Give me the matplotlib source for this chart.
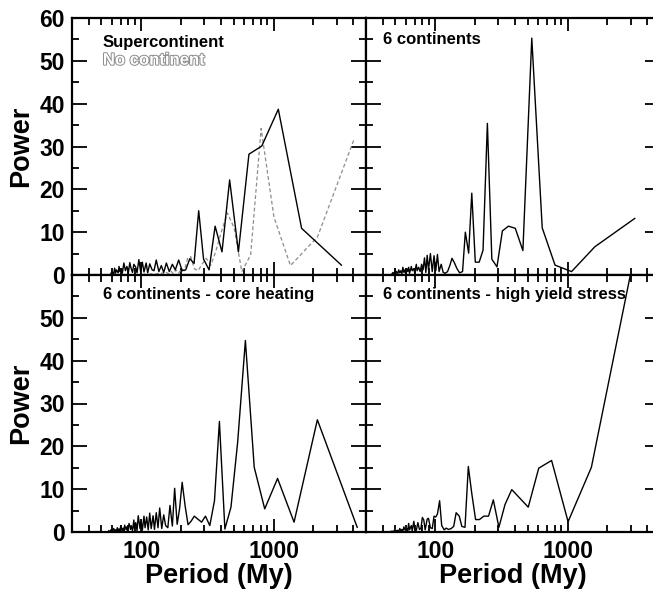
import matplotlib
matplotlib.use('Agg')
import matplotlib.pyplot as plt
import matplotlib.patheffects as pe

plt.rcParams['font.family'] = ['Liberation Sans', 'DejaVu Sans']
plt.rcParams['font.weight'] = 'bold'

# Supercontinent (solid) and No continent (dashed), top-left
sc_period = [3260, 1630, 1087, 815, 652, 543, 466, 408, 362, 326,
             296, 272, 251, 233, 217, 204, 192, 181, 172, 163,
             155, 148, 142, 136, 130, 125, 121, 116, 112, 109,
             105, 102, 99, 96, 93, 91, 88, 86, 84, 82,
             80, 78, 76, 74, 72, 71, 69, 68, 67, 65,
             64, 63, 62, 60, 59]
sc_power = [2.3, 10.9, 38.7, 30.1, 28.2, 5.4, 22.2, 5.4, 11.4, 1.2,
            3.7, 15.0, 2.7, 3.8, 1.2, 1.0, 3.5, 1.2, 2.5, 0.8,
            2.8, 0.6, 2.2, 0.8, 3.5, 1.0, 1.2, 2.6, 0.5, 2.8,
            0.7, 3.0, 0.8, 3.6, 0.5, 1.8, 2.5, 0.6, 1.5, 2.9,
            0.5, 2.0, 1.0, 2.8, 0.4, 1.5, 0.8, 2.0, 0.5, 1.2,
            0.4, 1.6, 0.3, 0.8, 0.3]

nc_period = [4030, 2150, 1343, 1008, 806, 672, 576, 504, 448, 403,
             366, 336, 310, 288, 269, 252, 237, 224, 212, 202,
             192, 183, 175, 168, 161, 155, 149, 144, 139, 134,
             130, 126, 122, 119, 115, 112, 109, 106, 103, 101]
nc_power = [31.4, 8.9, 2.2, 13.5, 34.2, 4.7, 0.8, 11.0, 14.5, 10.0,
            5.5, 2.3, 3.9, 2.5, 1.0, 1.5, 4.3, 3.8, 1.0, 1.5,
            0.4, 1.2, 0.3, 0.9, 0.3, 0.6, 0.2, 0.5, 0.2, 0.4,
            0.2, 0.3, 0.1, 0.3, 0.1, 0.2, 0.1, 0.2, 0.1, 0.1]

# 6 continents, top-right
c6_period = [3220, 1610, 1073, 805, 644, 537, 460, 403, 358, 322,
             293, 268, 248, 230, 215, 201, 189, 179, 169, 161,
             153, 146, 140, 134, 129, 124, 119, 115, 111, 107,
             104, 101, 98, 95, 92, 89, 87, 85, 83, 81,
             79, 77, 75, 73, 72, 70, 69, 67, 66, 64,
             63, 62, 61, 60, 59, 58, 57, 56, 55, 54,
             53, 52, 51, 50, 50, 49, 48, 47]
c6_power = [13.2, 6.6, 0.8, 2.3, 11.0, 55.3, 5.7, 10.9, 11.4, 10.3,
            1.9, 3.7, 35.4, 5.8, 3.0, 3.0, 19.1, 5.1, 10.0, 0.8,
            0.5, 1.5, 2.8, 3.9, 2.2, 0.8, 0.4, 0.6, 2.5, 0.8,
            4.8, 1.0, 4.5, 0.8, 5.0, 1.2, 4.6, 0.6, 4.0, 1.2,
            2.5, 0.8, 1.8, 1.0, 2.5, 0.5, 1.5, 1.0, 2.0, 0.4,
            1.8, 0.8, 1.5, 0.3, 1.2, 0.6, 1.8, 0.3, 1.0, 0.5,
            1.2, 0.2, 0.8, 0.3, 1.4, 0.2, 0.6, 0.2]

# 6 continents - core heating, bottom-left
ch_period = [4290, 2145, 1430, 1073, 858, 715, 613, 536, 477, 429,
             390, 358, 330, 306, 286, 268, 252, 238, 226, 215,
             204, 195, 187, 179, 172, 165, 159, 153, 148, 143,
             138, 134, 130, 126, 123, 119, 116, 113, 110, 107,
             105, 102, 100, 98, 95, 93, 91, 89, 88, 86,
             84, 83, 81, 79, 78, 77, 75, 74, 73, 72,
             70, 69, 68, 67, 66, 65, 64, 63, 62, 61,
             60, 60, 59, 58, 57]
ch_power = [1.1, 26.2, 2.3, 12.5, 5.4, 15.1, 44.7, 21.0, 5.8, 0.7,
            25.8, 7.3, 1.5, 3.7, 2.3, 3.0, 3.7, 2.5, 1.7, 6.0,
            11.6, 5.4, 1.8, 10.2, 1.4, 6.2, 1.0, 1.5, 4.0, 0.8,
            5.6, 1.0, 4.5, 0.6, 3.8, 0.8, 4.4, 0.5, 3.5, 1.0,
            3.7, 0.4, 2.5, 0.8, 3.8, 0.3, 2.2, 0.8, 2.8, 0.3,
            1.5, 0.6, 2.0, 0.3, 1.2, 0.5, 1.6, 0.2, 0.9, 0.4,
            1.3, 0.2, 0.7, 0.3, 1.0, 0.2, 0.5, 0.3, 0.8, 0.2,
            0.4, 0.2, 0.5, 0.1, 0.3]

# 6 continents - high yield stress, bottom-right
hy_period = [3030, 1515, 1010, 758, 606, 505, 433, 379, 337, 303,
             275, 253, 233, 216, 202, 189, 178, 168, 159, 152,
             144, 138, 132, 126, 121, 117, 112, 108, 104, 101,
             98, 95, 92, 89, 87, 84, 82, 80, 78, 76,
             74, 72, 70, 69, 67, 66, 64, 63, 62, 61,
             59, 58, 57, 56, 55, 54, 53, 52, 51, 51,
             50, 49, 48, 47, 47, 46]
hy_power = [61.0, 15.1, 2.4, 16.7, 14.9, 5.8, 8.0, 9.9, 6.4, 1.1,
            7.5, 3.7, 3.7, 2.9, 2.9, 9.0, 15.3, 1.1, 1.3, 3.7,
            4.5, 1.3, 0.8, 0.6, 0.9, 0.5, 1.5, 7.3, 4.2, 3.5,
            3.7, 0.8, 1.0, 3.2, 3.0, 0.5, 2.8, 3.4, 0.8, 0.6,
            2.2, 0.4, 0.6, 2.5, 0.3, 1.5, 0.5, 2.0, 0.3, 0.8,
            0.5, 1.2, 0.2, 0.6, 0.3, 0.8, 0.1, 0.4, 0.2, 0.3,
            0.1, 0.3, 0.1, 0.2, 0.1, 0.1]

xticks_major = [100, 1000]
xticks_minor = [30, 40, 50, 60, 70, 80, 90, 200, 300, 400, 500, 600, 700, 800, 900,
                2000, 3000, 4000]

W, H = 653, 595
fig = plt.figure(figsize=(W / 100, H / 100), dpi=100)


def add_panel(x0, y0, x1, y1):
    return fig.add_axes([x0 / W, 1 - y1 / H, (x1 - x0) / W, (y1 - y0) / H])


def setup(ax, left_labels, bottom_labels, top_label_60=True):
    ax.set_xscale('log')
    ax.set_xlim(30, 5000)
    ax.set_ylim(0, 60)
    ax.set_xticks(xticks_major)
    ax.set_xticks(xticks_minor, minor=True)
    ax.set_xticklabels(['100', '1000'] if bottom_labels else ['', ''])
    ax.set_xticklabels([''] * len(xticks_minor), minor=True)
    ax.set_yticks(range(0, 61, 10))
    ax.set_yticks(range(5, 60, 10), minor=True)
    if left_labels:
        labs = [str(v) for v in range(0, 61, 10)]
        if not top_label_60:
            labs[-1] = ''
        ax.set_yticklabels(labs)
    else:
        ax.set_yticklabels([''] * 7)
    ax.tick_params(which='both', direction='in', top=True, right=True,
                   width=1.3, labelsize=16.5, color='black')
    ax.xaxis.set_tick_params(which='major', length=9.5, pad=6)
    ax.xaxis.set_tick_params(which='minor', length=5)
    ax.yaxis.set_tick_params(which='major', length=11, pad=5)
    ax.yaxis.set_tick_params(which='minor', length=5)
    for lab in ax.get_xticklabels() + ax.get_yticklabels():
        lab.set_fontweight('bold')
    for s in ax.spines.values():
        s.set_linewidth(1.6)


ax_tl = add_panel(72, 18, 366, 275)
ax_tr = add_panel(366, 18, 660, 275)
ax_bl = add_panel(72, 275, 366, 532)
ax_br = add_panel(366, 275, 660, 532)

setup(ax_tl, True, False)
setup(ax_tr, False, False)
setup(ax_bl, True, True, top_label_60=False)
setup(ax_br, False, True)

ax_tl.plot(nc_period, nc_power, color='#8c8c8c', lw=0.9, ls=(0, (3, 2)))
ax_tl.plot(sc_period, sc_power, color='black', lw=1.0)
ax_tr.plot(c6_period, c6_power, color='black', lw=1.0)
ax_bl.plot(ch_period, ch_power, color='black', lw=1.0)
ax_br.plot(hy_period, hy_power, color='black', lw=1.0)

ax_tl.text(0.105, 0.935, 'Supercontinent', transform=ax_tl.transAxes,
           fontsize=12, fontweight='bold', va='top', ha='left')
ax_tl.text(0.105, 0.865, 'No continent', transform=ax_tl.transAxes,
           fontsize=12, fontweight='bold', va='top', ha='left', color='white',
           path_effects=[pe.withStroke(linewidth=1.4, foreground='#8c8c8c')])
ax_tr.text(0.058, 0.945, '6 continents', transform=ax_tr.transAxes,
           fontsize=12, fontweight='bold', va='top', ha='left')
ax_bl.text(0.105, 0.955, '6 continents - core heating', transform=ax_bl.transAxes,
           fontsize=12, fontweight='bold', va='top', ha='left')
ax_br.text(0.058, 0.955, '6 continents - high yield stress', transform=ax_br.transAxes,
           fontsize=12, fontweight='bold', va='top', ha='left')

for yc in [(18 + 275) / 2, (275 + 532) / 2]:
    fig.text(21 / W, 1 - yc / H, 'Power', rotation=90, fontsize=19.5,
             fontweight='bold', ha='center', va='center')
for xc in [(72 + 366) / 2, (366 + 660) / 2]:
    fig.text(xc / W, 1 - 576 / H, 'Period (My)', fontsize=19.5,
             fontweight='bold', ha='center', va='center')

fig.savefig('out.png', dpi=100)
